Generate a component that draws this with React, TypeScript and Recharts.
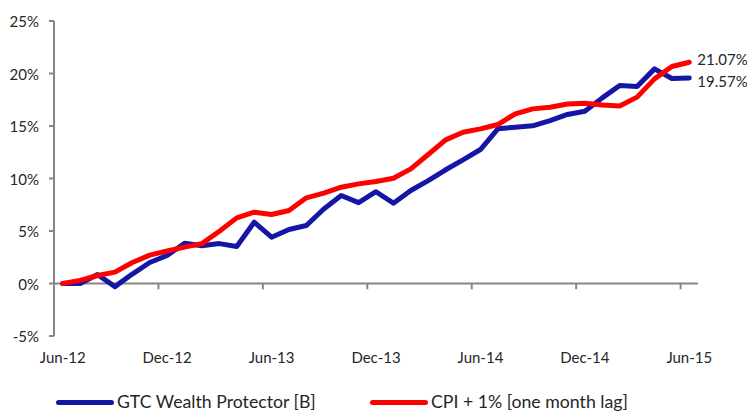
import { Legend, Line, LineChart, ReferenceLine, XAxis, YAxis } from "recharts"

// monthly values, % growth since Jun-12
const months = [
  "Jun-12", "Jul-12", "Aug-12", "Sep-12", "Oct-12", "Nov-12", "Dec-12",
  "Jan-13", "Feb-13", "Mar-13", "Apr-13", "May-13", "Jun-13",
  "Jul-13", "Aug-13", "Sep-13", "Oct-13", "Nov-13", "Dec-13",
  "Jan-14", "Feb-14", "Mar-14", "Apr-14", "May-14", "Jun-14",
  "Jul-14", "Aug-14", "Sep-14", "Oct-14", "Nov-14", "Dec-14",
  "Jan-15", "Feb-15", "Mar-15", "Apr-15", "May-15", "Jun-15",
]

const gtcWealthProtector = [
  0, 0, 0.86, -0.3, 0.9, 2.0, 2.67, 3.84, 3.6, 3.8, 3.52, 5.84, 4.41,
  5.14, 5.52, 7.1, 8.38, 7.7, 8.74, 7.65, 8.86, 9.8, 10.83, 11.78, 12.76,
  14.73, 14.89, 15.02, 15.52, 16.1, 16.41, 17.68, 18.86, 18.76, 20.44, 19.52, 19.57,
]

const cpiPlusOne = [
  0, 0.3, 0.76, 1.08, 2.0, 2.7, 3.1, 3.46, 3.8, 4.98, 6.25, 6.79, 6.57,
  6.95, 8.16, 8.6, 9.17, 9.49, 9.72, 10.03, 10.92, 12.29, 13.68, 14.41, 14.73,
  15.14, 16.16, 16.63, 16.79, 17.1, 17.17, 17.0, 16.9, 17.75, 19.49, 20.67, 21.07,
]

const xTickIndexes = [0, 6, 12, 18, 24, 30, 36]
const yTicks = [-5, 0, 5, 10, 15, 20, 25]

const BLUE = "#1616a6"
const RED = "#ff0000"
const AXIS = "#868686"
const TEXT = "#262626"
const FONT = "Lato, 'Open Sans', sans-serif"

const data = months.map((m, i) => ({
  i,
  month: m,
  gtc: gtcWealthProtector[i],
  cpi: cpiPlusOne[i],
}))

const legendItems = [
  { name: "GTC Wealth Protector [B]", color: BLUE, left: 56 },
  { name: "CPI + 1% [one month lag]", color: RED, left: 370 },
]

function LegendContent() {
  return (
    <div style={{ position: "relative", height: 20, fontFamily: FONT }}>
      {legendItems.map((item) => (
        <div
          key={item.name}
          style={{ position: "absolute", left: item.left, top: 0, display: "flex", alignItems: "center", lineHeight: "20px" }}
        >
          <div style={{ width: 58, height: 5, borderRadius: 3, background: item.color }} />
          <span style={{ marginLeft: 3, fontSize: 17.7, color: TEXT, whiteSpace: "nowrap" }}>{item.name}</span>
        </div>
      ))}
    </div>
  )
}

const endLabel = (dy: number) => (props: any) => {
  const { x, y, value, index } = props
  if (index !== data.length - 1) return null
  return (
    <text x={x + 8} y={y + dy} dominantBaseline="central" fill={TEXT} fontSize={15} fontFamily={FONT}>
      {Number(value).toFixed(2)}%
    </text>
  )
}

export default function App() {
  return (
    <div style={{ position: "absolute", left: 0, top: 0 }}>
      <LineChart width={747} height={414} data={data} margin={{ top: 21, right: 49, bottom: 48, left: 0 }}>
        <XAxis
          dataKey="i"
          type="number"
          domain={[-0.5, 36.5]}
          ticks={xTickIndexes}
          tickFormatter={(v) => months[v]}
          axisLine={false}
          tickLine={false}
          tickSize={0}
          tickMargin={16}
          height={30}
          tick={{ fill: TEXT, fontSize: 15, fontFamily: FONT }}
        />
        <YAxis
          type="number"
          domain={[-5, 25]}
          ticks={yTicks}
          width={54}
          tickFormatter={(v) => `${v}%`}
          axisLine={{ stroke: AXIS, strokeWidth: 2 }}
          tickLine={{ stroke: AXIS, strokeWidth: 2 }}
          tickSize={5}
          tickMargin={10}
          tick={{ fill: TEXT, fontSize: 15, fontFamily: FONT, dy: 1 }}
        />
        <ReferenceLine y={0} stroke={AXIS} strokeWidth={2} />
        {xTickIndexes.slice(1).map((t) => (
          <ReferenceLine
            key={t}
            segment={[{ x: t - 0.5, y: 0 }, { x: t - 0.5, y: -0.55 }]}
            stroke={AXIS}
            strokeWidth={2}
          />
        ))}
        <Line
          type="linear"
          dataKey="gtc"
          stroke={BLUE}
          strokeWidth={5}
          strokeLinecap="round"
          strokeLinejoin="round"
          dot={false}
          isAnimationActive={false}
          label={endLabel(3)}
        />
        <Line
          type="linear"
          dataKey="cpi"
          stroke={RED}
          strokeWidth={5}
          strokeLinecap="round"
          strokeLinejoin="round"
          dot={false}
          isAnimationActive={false}
          label={endLabel(-3)}
        />
        <Legend
          verticalAlign="middle"
          layout="horizontal"
          content={<LegendContent />}
          wrapperStyle={{ top: 392, left: 0, width: 747, height: 20 }}
        />
      </LineChart>
    </div>
  )
}
